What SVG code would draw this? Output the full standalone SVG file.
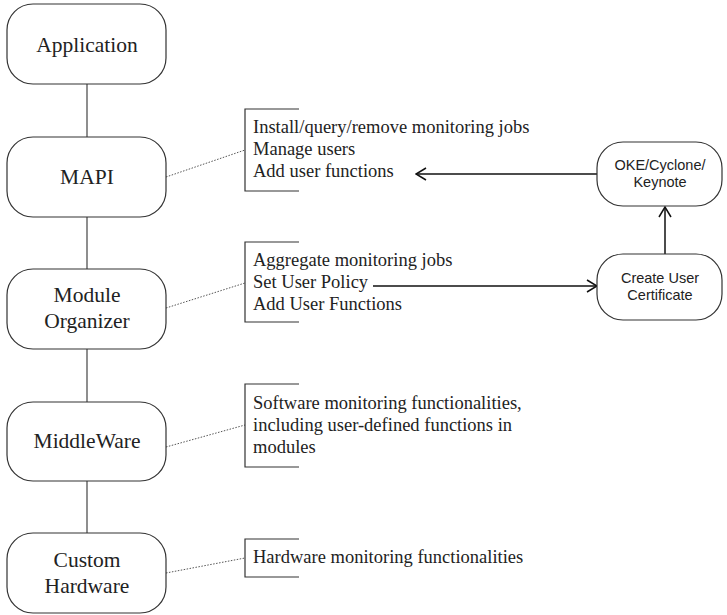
<svg xmlns="http://www.w3.org/2000/svg" width="727" height="615" viewBox="0 0 727 615">
<defs>
<style>
.node{fill:#fff;stroke:#333;stroke-width:1.2}
.t{font-family:"Liberation Serif","Times New Roman",serif;font-size:21.5px;fill:#222;text-anchor:middle}
.n{font-family:"Liberation Serif","Times New Roman",serif;font-size:18.5px;fill:#222}
.s{font-family:"Liberation Sans",Arial,sans-serif;font-size:14.5px;fill:#222;text-anchor:middle}
.ln{stroke:#444;stroke-width:1.2;fill:none}
.dot{stroke:#555;stroke-width:1;stroke-dasharray:1.5 1.5;fill:none}
.br{stroke:#333;stroke-width:1.2;fill:none}
.ar{stroke:#111;stroke-width:1.5;fill:none}
</style>
<marker id="ah" viewBox="0 0 12 14" refX="11" refY="7" markerWidth="12" markerHeight="14" markerUnits="userSpaceOnUse" orient="auto">
<path d="M1,1 L11,7 L1,13" fill="none" stroke="#111" stroke-width="1.5"/>
</marker>
</defs>
<g id="connectors">
<line class="ln" x1="87" y1="84" x2="87" y2="137"/>
<line class="ln" x1="87" y1="217" x2="87" y2="269"/>
<line class="ln" x1="87" y1="349" x2="87" y2="402"/>
<line class="ln" x1="87" y1="481" x2="87" y2="533"/>
<line class="dot" x1="166" y1="177" x2="245" y2="150"/>
<line class="dot" x1="166" y1="308" x2="245" y2="283"/>
<line class="dot" x1="166" y1="447" x2="245" y2="425"/>
<line class="dot" x1="166" y1="573" x2="245" y2="558"/>
<line class="ar" x1="597" y1="174" x2="416" y2="174" marker-end="url(#ah)"/>
<line class="ar" x1="373" y1="286" x2="597" y2="286" marker-end="url(#ah)"/>
<line class="ar" x1="665" y1="254" x2="665" y2="207" marker-end="url(#ah)"/>
</g>
<g id="application"><rect class="node" x="7" y="4" width="159" height="80" rx="26"/><text class="t" x="87" y="52">Application</text></g>
<g id="mapi"><rect class="node" x="7" y="137" width="159" height="80" rx="26"/><text class="t" x="87" y="184">MAPI</text></g>
<g id="module-organizer"><rect class="node" x="7" y="269" width="159" height="80" rx="26"/><text class="t" x="87" y="302">Module</text><text class="t" x="87" y="328">Organizer</text></g>
<g id="middleware"><rect class="node" x="7" y="402" width="159" height="79" rx="26"/><text class="t" x="87" y="448">MiddleWare</text></g>
<g id="custom-hardware"><rect class="node" x="7" y="533" width="159" height="80" rx="26"/><text class="t" x="87" y="567">Custom</text><text class="t" x="87" y="593">Hardware</text></g>
<g id="mapi-notes"><path class="br" d="M299,109 H245 V191 H299"/><text class="n" x="253" y="133">Install/query/remove monitoring jobs</text><text class="n" x="253" y="155">Manage users</text><text class="n" x="253" y="177">Add user functions</text></g>
<g id="module-notes"><path class="br" d="M299,242 H245 V322 H299"/><text class="n" x="253" y="266">Aggregate monitoring jobs</text><text class="n" x="253" y="288">Set User Policy</text><text class="n" x="253" y="310">Add User Functions</text></g>
<g id="middleware-notes"><path class="br" d="M299,384 H245 V467 H299"/><text class="n" x="253" y="409">Software monitoring functionalities,</text><text class="n" x="253" y="431">including user-defined functions in</text><text class="n" x="253" y="453">modules</text></g>
<g id="hardware-notes"><path class="br" d="M299,539 H245 V577 H299"/><text class="n" x="253" y="563">Hardware monitoring functionalities</text></g>
<g id="oke"><rect class="node" x="597" y="142" width="125" height="64" rx="26"/><text class="s" x="660" y="170">OKE/Cyclone/</text><text class="s" x="660" y="187">Keynote</text></g>
<g id="create-cert"><rect class="node" x="597" y="254" width="125" height="66" rx="26"/><text class="s" x="660" y="283">Create User</text><text class="s" x="660" y="300">Certificate</text></g>
</svg>
